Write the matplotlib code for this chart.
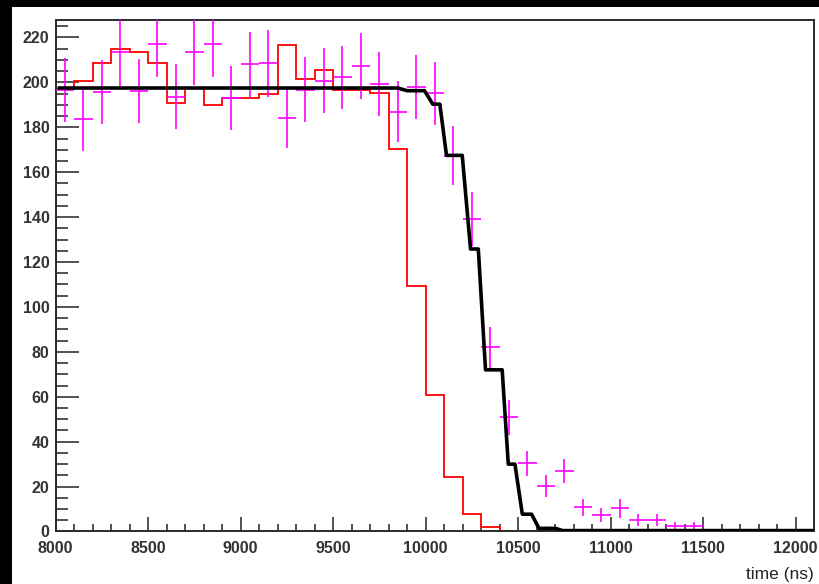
import numpy as np
import matplotlib
matplotlib.use('Agg')
import matplotlib.pyplot as plt
from matplotlib.ticker import MultipleLocator
from matplotlib.patches import Rectangle

plt.rcParams['font.family'] = ['Liberation Sans', 'DejaVu Sans']

# red histogram: 100 ns bins starting at 8000 ns
bin_start = 8000
bin_width = 100
red_counts = [197.0, 200.5, 208.5, 214.8, 213.4, 208.5, 190.7, 197.4, 190.0, 193.0,
              193.0, 194.9, 216.7, 201.4, 205.6, 196.7, 196.7, 195.2, 170.2, 109.5,
              60.8, 24.4, 7.7, 2.1, 0, 0, 0, 0, 0, 0,
              0, 0, 0, 0, 0, 0, 0, 0, 0, 0, 0]

# magenta data points (bin centres, counts, errors)
data_t = [8050, 8150, 8250, 8350, 8450, 8550, 8650, 8750, 8850, 8950,
          9050, 9150, 9250, 9350, 9450, 9550, 9650, 9750, 9850, 9950,
          10050, 10150, 10250, 10350, 10450, 10550, 10650, 10750, 10850, 10950,
          11050, 11150, 11250, 11350, 11450]
data_y = [196.7, 183.7, 195.8, 213.4, 196.3, 217.1, 193.7, 213.4, 217.1, 193.0,
          208.1, 208.5, 184.3, 196.7, 200.7, 202.3, 207.3, 199.3, 187.0, 197.9,
          195.2, 167.3, 139.1, 82.0, 50.9, 30.4, 20.3, 26.9, 10.8, 7.3,
          10.3, 5.1, 5.1, 2.6, 2.6]
data_err = [14.3, 14.1, 14.3, 15.0, 14.3, 14.7, 14.4, 14.6, 14.7, 14.1,
            14.5, 14.9, 13.5, 14.5, 14.4, 14.1, 14.7, 14.4, 13.7, 14.3,
            14.0, 13.2, 12.0, 9.2, 7.8, 5.5, 4.8, 5.4, 3.7, 3.0,
            4.1, 2.7, 2.7, 1.7, 1.7]

# black curve
fit_t = [8020, 9850, 9900, 9994, 10039, 10077, 10113, 10198, 10243, 10285,
         10324, 10414, 10447, 10483, 10523, 10573, 10613, 10703, 10740, 12100]
fit_y = [197.5, 197.5, 196.3, 196.3, 190.3, 190.3, 167.5, 167.5, 125.8, 125.8,
         72.0, 72.0, 30.0, 30.0, 7.7, 7.7, 1.4, 1.4, 0.4, 0.4]

red_edges = bin_start + bin_width * np.arange(len(red_counts) + 1)

fig = plt.figure(figsize=(8.2, 5.84), dpi=100, facecolor='black')
# white canvas, black border only on top and left
fig.add_artist(Rectangle((12 / 820, 0), 1, (584 - 7) / 584, transform=fig.transFigure,
                         facecolor='white', edgecolor='none', zorder=0))

ax = fig.add_axes([0.0679, 0.0899, 0.9248, 0.8759])

ax.stairs(red_counts, red_edges, color='red', lw=1.3, baseline=0, zorder=2)
ax.errorbar(data_t, data_y, xerr=bin_width / 2, yerr=data_err, fmt='none',
            ecolor='#ff00ff', elinewidth=1.2, capsize=0, zorder=3)
ax.plot(fit_t, fit_y, color='black', lw=2.6, zorder=4)

ax.set_xlim(8000, 12100)
ax.set_ylim(0, 227.8)

ax.xaxis.set_major_locator(MultipleLocator(500))
ax.xaxis.set_minor_locator(MultipleLocator(100))
ax.yaxis.set_major_locator(MultipleLocator(20))
ax.yaxis.set_minor_locator(MultipleLocator(5))

ax.tick_params(axis='both', which='both', direction='in', top=False, right=False,
               color='#222222', width=1.1, labelcolor='#333333')
ax.tick_params(axis='y', which='major', length=16.5, pad=4.5)
ax.tick_params(axis='y', which='minor', length=8.4)
ax.tick_params(axis='x', which='major', length=10, pad=6.5)
ax.tick_params(axis='x', which='minor', length=5)
for lab in ax.get_xticklabels() + ax.get_yticklabels():
    lab.set_fontweight('bold')
    lab.set_fontsize(11.5)

for sp in ax.spines.values():
    sp.set_color('#2a2a2a')
    sp.set_linewidth(1.4)

ax.set_xlabel('time (ns)', loc='right', fontsize=12.5, color='#222222', labelpad=8)

fig.savefig('out.png', dpi=100, facecolor=fig.get_facecolor())
